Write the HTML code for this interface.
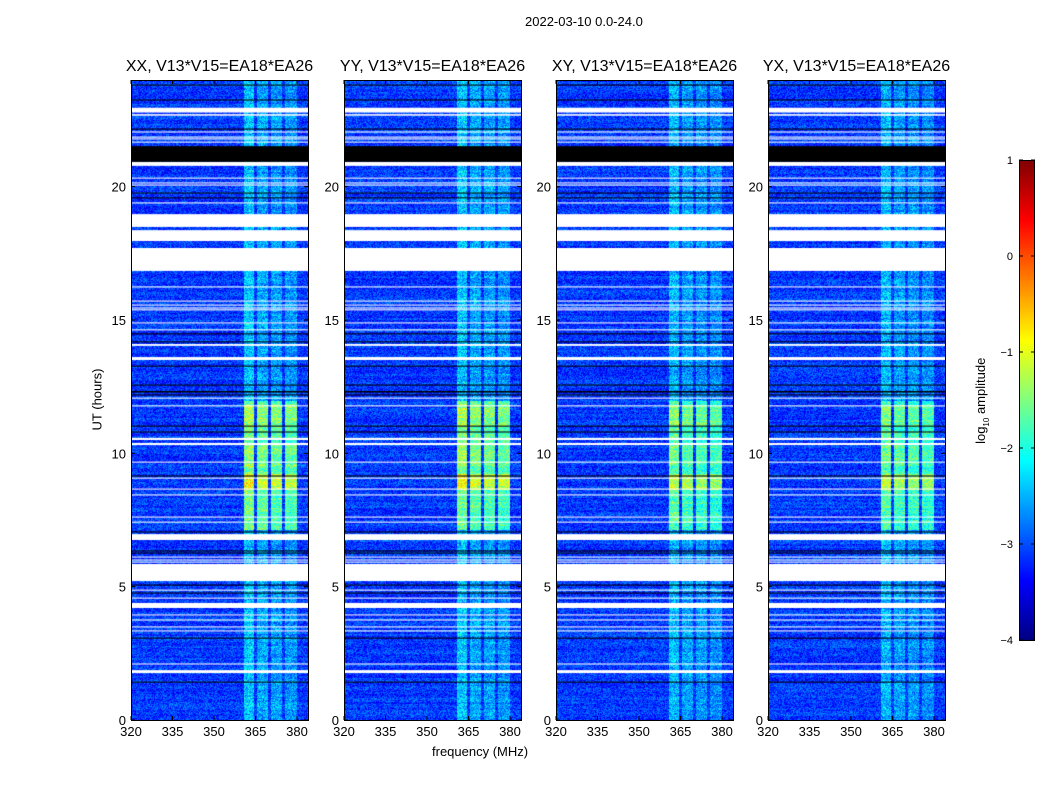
<!DOCTYPE html>
<html><head><meta charset="utf-8">
<style>
body{margin:0;background:#fff;font-family:"Liberation Sans",sans-serif;}
#wrap{position:relative;width:1050px;height:800px;overflow:hidden;background:#fff}
.t{position:absolute;font-size:13px;color:#000;white-space:nowrap}
.ttl{position:absolute;font-size:16px;white-space:nowrap;transform:translateX(-50%)}
canvas{position:absolute}
#ov{z-index:2}
</style></head><body>
<div id="wrap">
<div class="t" style="left:525px;top:14px">2022-03-10 0.0-24.0</div>
<div class="t" style="left:52px;top:392px;transform:rotate(-90deg);transform-origin:center;width:90px;text-align:center">UT (hours)</div>
<div class="t" style="left:432px;top:744px">frequency (MHz)</div>
<canvas id="cb" width="16" height="481" style="left:1019px;top:160px"></canvas>
<div class="t" style="left:922px;top:392px;width:120px;text-align:center;transform:rotate(-90deg)">log<sub style="font-size:8px">10</sub> amplitude</div>
<svg id="ov" width="1050" height="800" style="position:absolute;left:0;top:0"></svg>
</div>
<script>
// ---- data ----
const panelTitles=["XX, V13*V15=EA18*EA26","YY, V13*V15=EA18*EA26","XY, V13*V15=EA18*EA26","YX, V13*V15=EA18*EA26"];
const panelLeft=[131,344,556,768];
const panelGain=[1.0,1.0,0.9,0.9];
const yTicks=[0,5,10,15,20];
const xTicks=[320,335,350,365,380];
const cbTicks=[1,0,-1,-2,-3,-4];
const bgLevel=-3.1;
// band structure (MHz): start, end, level above bg
const bandStart=[360.5,365.3,370.4,375.4];
const bandEnd=[364.4,369.5,374.5,379.8];
const bandLevel=[0.7,0.55,0.5,0.45];
// bright RFI window (hours): start,end,added level
const brightStart=[7.1,8.6,9.5,10.6,11.0];
const brightEnd=[11.95,9.2,10.3,11.0,11.8];
const brightAdd=[0.7,0.5,0.15,0.05,0.25];
// flagged (white) intervals [start,end] hours
const whiteStart=[22.78,22.66,22.03,21.84,21.77,21.65,20.78,20.30,20.12,20.04,19.37,18.49,17.96,16.84,16.22,15.69,15.54,15.43,15.36,14.87,14.61,14.03,13.50,12.05,11.76,10.50,10.31,9.65,9.05,8.64,8.42,7.59,7.40,6.75,6.09,5.98,5.90,5.21,4.85,4.55,4.20,3.92,3.73,3.47,3.32,2.08,1.76];
const whiteEnd=[22.96,22.72,22.07,21.88,21.81,21.69,20.93,20.34,20.16,20.08,19.41,18.97,18.37,17.70,16.26,15.73,15.58,15.47,15.40,14.91,14.65,14.10,13.61,12.09,11.80,10.58,10.39,9.69,9.09,8.68,8.46,7.63,7.44,6.97,6.13,6.02,5.94,5.85,4.89,4.59,4.39,3.96,3.77,3.51,3.36,2.12,1.87];
// black (zero) intervals
const blackStart=[20.93,23.79,23.23,22.14,19.74,19.56,14.46,14.16,13.25,12.54,12.28,12.17,11.00,10.78,9.13,7.03,6.32,6.24,5.04,4.74,3.05,1.40];
const blackEnd=[21.52,23.83,23.27,22.18,19.78,19.60,14.50,14.20,13.29,12.58,12.34,12.21,11.04,10.82,9.17,7.07,6.36,6.28,5.08,4.78,3.09,1.44];
// ---- scales ----
const PT=80,PH=640,PW=177,HMAX=24,FMIN=320,FPX=2.767;
const yOf=h=>PT+PH-h*(PH/HMAX);
const xOf=(i,f)=>panelLeft[i]+(f-FMIN)*FPX;
function jet(v){let t=(v+4)/5;t=Math.max(0,Math.min(1,t));
 const c=x=>Math.max(0,Math.min(1,x));
 return [c(1.5-Math.abs(4*t-3)),c(1.5-Math.abs(4*t-2)),c(1.5-Math.abs(4*t-1))].map(x=>Math.round(x*255));}
function hash(a,b,c){let h=(a*374761393+b*668265263+c*2147483647)|0;h=(h^(h>>>13))*1274126177|0;h=h^(h>>>16);return ((h>>>0)%10000)/10000;}
const wrap=document.getElementById('wrap');
const NS='http://www.w3.org/2000/svg';const ov=document.getElementById('ov');
function sv(tag,at){const e=document.createElementNS(NS,tag);for(const k in at)e.setAttribute(k,at[k]);ov.appendChild(e);return e;}
panelTitles.forEach((ttl,i)=>{
 const cv=document.createElement('canvas');cv.width=PW;cv.height=PH;
 cv.style.left=panelLeft[i]+'px';cv.style.top=PT+'px';
 
 
 wrap.appendChild(cv);
 const ctx=cv.getContext('2d');const img=ctx.createImageData(PW,PH);
 for(let py=0;py<PH;py++){const h=(PH-py-1)/(PH/HMAX);
  let br=0;for(let k=0;k<brightStart.length;k++)if(h>=brightStart[k]&&h<brightEnd[k])br+=brightAdd[k];
  const rowv=(hash(Math.floor(py/2),3,i)-0.5)*0.25;
  for(let px=0;px<PW;px++){const f=FMIN+px/FPX;
   let v=bgLevel+rowv+(hash(px,py,i)-0.5)*0.75;
   let inb=false;for(let k=0;k<bandStart.length;k++)if(f>=bandStart[k]&&f<bandEnd[k]){v+=bandLevel[k]*panelGain[i]*(0.6+0.8*hash(py,px,i+7));inb=true;}
   if(inb)v+=br*panelGain[i]*1.2;
   const col=jet(v);const o=(py*PW+px)*4;
   img.data[o]=col[0];img.data[o+1]=col[1];img.data[o+2]=col[2];img.data[o+3]=255;
  }}
 ctx.putImageData(img,0,0);
 ctx.fillStyle='#fff';
 whiteStart.forEach((s,k)=>{const y1=yOf(whiteEnd[k])-PT,y2=yOf(s)-PT;ctx.fillRect(0,y1,PW,Math.max(1,y2-y1));});
 ctx.fillStyle='#000';
 blackStart.forEach((s,k)=>{const y1=yOf(blackEnd[k])-PT,y2=yOf(s)-PT;ctx.fillRect(0,y1,PW,Math.max(1,y2-y1));});
 const L=panelLeft[i];
 const fr=sv('rect',{x:L+0.5,y:PT+0.5,width:PW,height:PH,fill:'none',stroke:'#000','stroke-width':1});
 
 
 const tt=document.createElement('div');tt.className='ttl';tt.textContent=ttl;
 tt.style.left=(L+PW/2)+'px';tt.style.top='58px';
 
 
 wrap.appendChild(tt);
 yTicks.forEach(h=>{const y=yOf(h);
  sv('line',{x1:L,x2:L+4,y1:y,y2:y,stroke:'#000'});sv('line',{x1:L+PW-4,x2:L+PW,y1:y,y2:y,stroke:'#000'});
  const t=sv('text',{x:L-5,y:y+5,'text-anchor':'end','font-size':13,'font-family':'Liberation Sans'});t.textContent=h;
  
  });
 xTicks.forEach(f=>{const x=xOf(i,f);
  sv('line',{x1:x,x2:x,y1:PT+PH,y2:PT+PH-4,stroke:'#000'});sv('line',{x1:x,x2:x,y1:PT,y2:PT+4,stroke:'#000'});
  const t=sv('text',{x:x,y:PT+PH+16,'text-anchor':'middle','font-size':13,'font-family':'Liberation Sans'});t.textContent=f;
  
  });
});
// colorbar
const cb=document.getElementById('cb').getContext('2d');
for(let y=0;y<481;y++){const v=1-5*y/480;const c=jet(v);cb.fillStyle=`rgb(${c[0]},${c[1]},${c[2]})`;cb.fillRect(0,y,16,1);}
sv('rect',{x:1019.5,y:160.5,width:15,height:480,fill:'none',stroke:'#000'});
cbTicks.forEach(v=>{const y=160+(1-v)*96;
 sv('line',{x1:1019,x2:1023,y1:y,y2:y,stroke:'#000'});sv('line',{x1:1031,x2:1035,y1:y,y2:y,stroke:'#000'});
 const t=sv('text',{x:1013,y:y+4,'text-anchor':'end','font-size':11,'font-family':'Liberation Sans'});t.textContent=v<0?'\u2212'+(-v):v;
 
 });
</script>
</body></html>
